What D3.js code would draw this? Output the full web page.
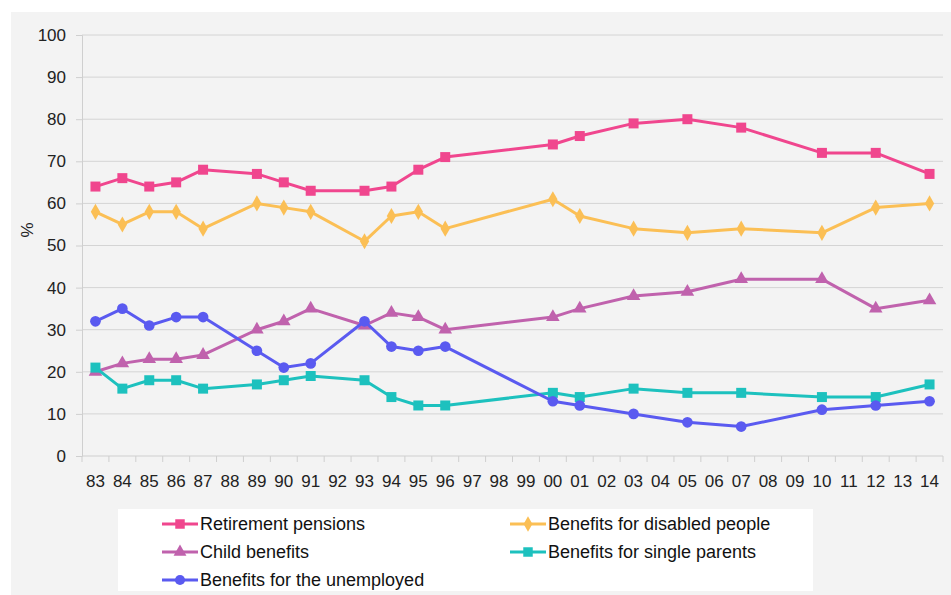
<!DOCTYPE html>
<html>
<head>
<meta charset="utf-8">
<script src="https://cdn.jsdelivr.net/npm/d3@7"></script>
<style>
  html, body { margin: 0; padding: 0; background: #ffffff; }
  svg { display: block; font-family: "Liberation Sans", Arial, sans-serif; }
</style>
</head>
<body>
<svg id="chart" width="951" height="595"></svg>
<script>
// Survey years, shown as two-digit labels on the x axis
const years = ["83","84","85","86","87","88","89","90","91","92","93","94","95","96","97","98","99",
               "00","01","02","03","04","05","06","07","08","09","10","11","12","13","14"];
// Years in which the question was asked
const surveyYears = ["83","84","85","86","87","89","90","91","93","94","95","96","00","01","03","05","07","10","12","14"];

const retirement  = [64,66,64,65,68,67,65,63,63,64,68,71,74,76,79,80,78,72,72,67];
const disabled    = [58,55,58,58,54,60,59,58,51,57,58,54,61,57,54,53,54,53,59,60];
const child       = [20,22,23,23,24,30,32,35,31,34,33,30,33,35,38,39,42,42,35,37];
const singleParent= [21,16,18,18,16,17,18,19,18,14,12,12,15,14,16,15,15,14,14,17];
const unemployed  = [32,35,31,33,33,25,21,22,32,26,25,26,13,12,10, 8, 7,11,12,13];

const yTicks = [0,10,20,30,40,50,60,70,80,90,100];

const series = [
  { name: "Retirement pensions",          values: retirement,   color: "#f0468e", symbol: d3.symbolSquare,   size: 100 },
  { name: "Benefits for disabled people", values: disabled,     color: "#fbbf55", symbol: d3.symbolDiamond,  size: 75 },
  { name: "Child benefits",               values: child,        color: "#c062ad", symbol: d3.symbolTriangle, size: 80 },
  { name: "Benefits for single parents",  values: singleParent, color: "#1dc1be", symbol: d3.symbolSquare,   size: 100 },
  { name: "Benefits for the unemployed",  values: unemployed,   color: "#5a5af0", symbol: d3.symbolCircle,   size: 90 }
];

const svg = d3.select("#chart");

// grey panel behind everything
svg.append("rect").attr("x", 11).attr("y", 12).attr("width", 940).attr("height", 583).attr("fill", "#f3f3f3");

const plot = { left: 82, right: 943, top: 35, bottom: 456 };

const x = d3.scaleBand().domain(years).range([plot.left, plot.right]);
const y = d3.scaleLinear().domain([0, 100]).range([plot.bottom, plot.top]);
const cx = d => x(d) + x.bandwidth() / 2;

// horizontal gridlines
svg.append("g").selectAll("line").data(yTicks.filter(t => t > 0)).join("line")
  .attr("x1", plot.left).attr("x2", plot.right)
  .attr("y1", d => y(d)).attr("y2", d => y(d))
  .attr("stroke", "#d4d4d4").attr("stroke-width", 1);

// y axis
const yAxis = svg.append("g").attr("transform", `translate(${plot.left},0)`)
  .call(d3.axisLeft(y).tickValues(yTicks).tickSize(6).tickPadding(10));
yAxis.select(".domain").attr("stroke", "#cfcfcf");
yAxis.selectAll(".tick line").attr("stroke", "#cfcfcf");
yAxis.selectAll("text").attr("font-size", 17).attr("fill", "#222");

// x axis with ticks at band boundaries
const xAxisG = svg.append("g").attr("transform", `translate(0,${plot.bottom})`);
xAxisG.append("line").attr("x1", plot.left).attr("x2", plot.right).attr("stroke", "#cfcfcf");
xAxisG.selectAll("line.tk").data(d3.range(years.length + 1)).join("line").attr("class", "tk")
  .attr("x1", i => plot.left + i * x.bandwidth()).attr("x2", i => plot.left + i * x.bandwidth())
  .attr("y1", 0).attr("y2", 6).attr("stroke", "#cfcfcf");
xAxisG.selectAll("text").data(years).join("text")
  .attr("x", d => cx(d)).attr("y", 31)
  .attr("text-anchor", "middle").attr("font-size", 17).attr("fill", "#222")
  .text(d => d);

// y axis title
svg.append("text").attr("transform", "translate(33,230) rotate(-90)")
  .attr("text-anchor", "middle").attr("font-size", 17).attr("fill", "#222").text("%");

// lines and markers
const line = d3.line().x((d, i) => cx(surveyYears[i])).y(d => y(d));
series.forEach(s => {
  const g = svg.append("g");
  g.append("path").datum(s.values).attr("d", line)
    .attr("fill", "none").attr("stroke", s.color).attr("stroke-width", 3).attr("stroke-linejoin", "round");
  g.selectAll("path.m").data(s.values).join("path").attr("class", "m")
    .attr("transform", (d, i) => `translate(${cx(surveyYears[i])},${y(d)})`)
    .attr("d", d3.symbol().type(s.symbol).size(s.size))
    .attr("fill", s.color);
});

// legend
const lg = svg.append("g");
lg.append("rect").attr("x", 118).attr("y", 509).attr("width", 695).attr("height", 82).attr("fill", "#ffffff");
const legendPos = [
  { x: 162, y: 524 }, { x: 510, y: 524 },
  { x: 162, y: 552 }, { x: 510, y: 552 },
  { x: 162, y: 580 }
];
series.forEach((s, i) => {
  const p = legendPos[i];
  lg.append("line").attr("x1", p.x).attr("x2", p.x + 36).attr("y1", p.y).attr("y2", p.y)
    .attr("stroke", s.color).attr("stroke-width", 3);
  lg.append("path").attr("transform", `translate(${p.x + 18},${p.y})`)
    .attr("d", d3.symbol().type(s.symbol).size(s.size * 0.9)).attr("fill", s.color);
  lg.append("text").attr("x", p.x + 38).attr("y", p.y + 6)
    .attr("font-size", 18).attr("fill", "#111").text(s.name);
});
</script>
</body>
</html>
